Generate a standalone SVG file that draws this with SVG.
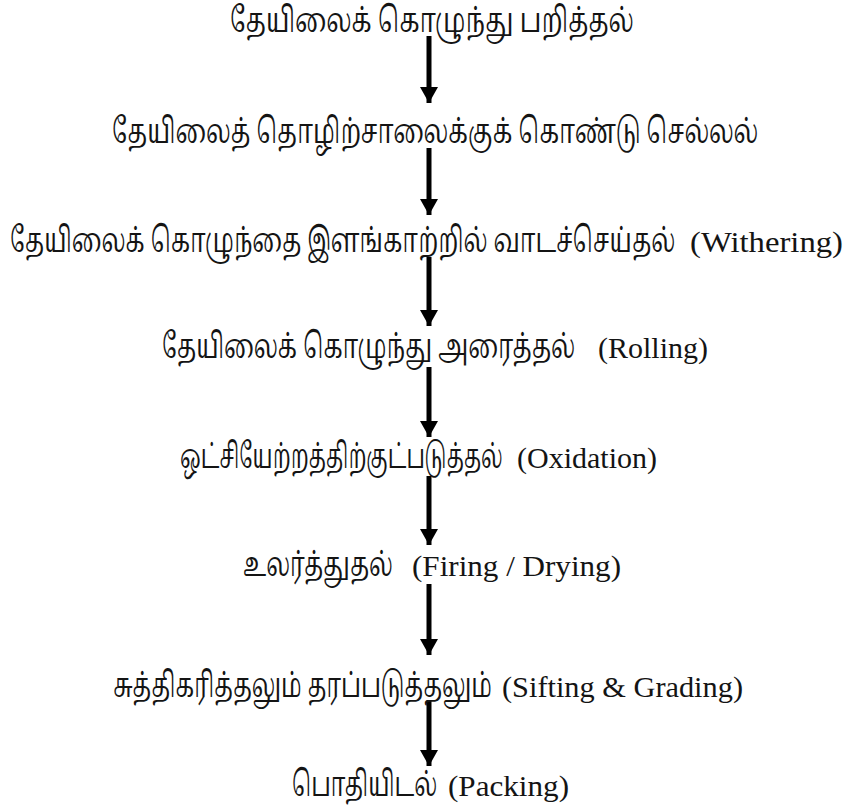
<svg xmlns="http://www.w3.org/2000/svg" width="847" height="809" viewBox="0 0 847 809">
<style>
.ta{font-family:"Noto Serif Tamil","Noto Sans Tamil","Lohit Tamil",serif;font-size:35px;fill:#141414}
.en{font-family:"Liberation Serif","Times New Roman",serif;font-size:30px;fill:#141414}
.c{stroke:#000;stroke-width:5;fill:none}
</style>
<defs>
<marker id="ah" markerUnits="userSpaceOnUse" markerWidth="20" markerHeight="18" refX="16" refY="9" orient="auto">
<path d="M0,0 L16,9 L0,18 Z" fill="#000"/>
</marker>
</defs>
<rect width="847" height="809" fill="#fff"/>
<g id="connectors">
<line class="c" x1="429" y1="36" x2="429" y2="103" marker-end="url(#ah)"/>
<line class="c" x1="429" y1="148" x2="429" y2="215" marker-end="url(#ah)"/>
<line class="c" x1="429" y1="257" x2="429" y2="326" marker-end="url(#ah)"/>
<line class="c" x1="429" y1="367" x2="429" y2="437" marker-end="url(#ah)"/>
<line class="c" x1="429" y1="476" x2="429" y2="545" marker-end="url(#ah)"/>
<line class="c" x1="429" y1="584" x2="429" y2="655" marker-end="url(#ah)"/>
<line class="c" x1="429" y1="700" x2="429" y2="766" marker-end="url(#ah)"/>
</g>
<g id="n1"><text class="ta" transform="translate(230,32) scale(0.66,1)" textLength="612" lengthAdjust="spacingAndGlyphs">தேயிலைக் கொழுந்து பறித்தல்</text></g>
<g id="n2"><text class="ta" transform="translate(112,143) scale(0.66,1)" textLength="979" lengthAdjust="spacingAndGlyphs">தேயிலைத் தொழிற்சாலைக்குக் கொண்டு செல்லல்</text></g>
<g id="n3"><text class="ta" transform="translate(10,252) scale(0.66,1)" textLength="1008" lengthAdjust="spacingAndGlyphs">தேயிலைக் கொழுந்தை இளங்காற்றில் வாடச்செய்தல்</text><text class="en" x="690" y="252" textLength="153" lengthAdjust="spacingAndGlyphs">(Withering)</text></g>
<g id="n4"><text class="ta" transform="translate(162,358) scale(0.66,1)" textLength="626" lengthAdjust="spacingAndGlyphs">தேயிலைக் கொழுந்து அரைத்தல்</text><text class="en" x="598" y="358" textLength="110" lengthAdjust="spacingAndGlyphs">(Rolling)</text></g>
<g id="n5"><text class="ta" transform="translate(180,468) scale(0.59,1)" textLength="547" lengthAdjust="spacingAndGlyphs">ஒட்சியேற்றத்திற்குட்படுத்தல்</text><text class="en" x="517" y="468" textLength="140" lengthAdjust="spacingAndGlyphs">(Oxidation)</text></g>
<g id="n6"><text class="ta" transform="translate(243,576) scale(0.66,1)" textLength="227" lengthAdjust="spacingAndGlyphs">உலர்த்துதல்</text><text class="en" x="412" y="576" textLength="209" lengthAdjust="spacingAndGlyphs">(Firing / Drying)</text></g>
<g id="n7"><text class="ta" transform="translate(113,697) scale(0.66,1)" textLength="574" lengthAdjust="spacingAndGlyphs">சுத்திகரித்தலும் தரப்படுத்தலும்</text><text class="en" x="502" y="697" textLength="241" lengthAdjust="spacingAndGlyphs">(Sifting &amp; Grading)</text></g>
<g id="n8"><text class="ta" transform="translate(292,796) scale(0.66,1)" textLength="220" lengthAdjust="spacingAndGlyphs">பொதியிடல்</text><text class="en" x="448" y="796" textLength="121" lengthAdjust="spacingAndGlyphs">(Packing)</text></g>
</svg>
